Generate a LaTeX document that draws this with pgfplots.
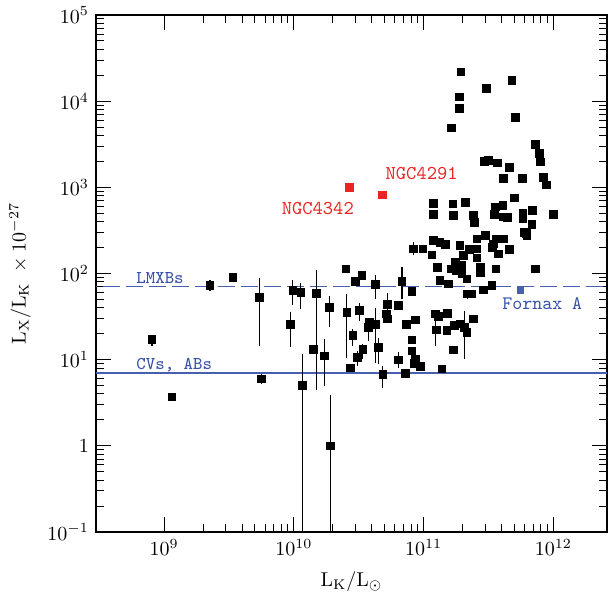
\documentclass[border=0pt]{standalone}
\usepackage{pgfplots}
\pgfplotsset{compat=1.18}
\definecolor{lblue}{RGB}{70,95,175}
\definecolor{tblue}{RGB}{55,80,170}
\definecolor{nred}{RGB}{235,35,35}
\begin{document}
\begin{tikzpicture}
\begin{axis}[name=ax, scale only axis, width=255.5pt, height=258.5pt,
 xmode=log, ymode=log, xmin=2.99e8, xmax=2.59e12, ymin=0.1, ymax=1e5,
 xtick={1e9,1e10,1e11,1e12}, xticklabels={$10^{9}$,$10^{10}$,$10^{11}$,$10^{12}$},
 ytick={0.1,1,10,100,1000,10000,100000},
 yticklabels={$10^{-1}$,$1$,$10^{1}$,$10^{2}$,$10^{3}$,$10^{4}$,$10^{5}$},
 tick align=inside, major tick length=7.5pt, minor tick length=4pt,
 axis line style={line width=0.9pt},
 every tick/.style={black, line width=0.5pt},
 xlabel={$\mathrm{L_K/L_\odot}$}, ylabel={$\mathrm{L_X/L_K}\ \times 10^{-27}$},
 xlabel style={at={(axis description cs:0.5,-0.106)}, anchor=base},
 ylabel style={at={(axis description cs:-0.149,0.5)}, anchor=center},
 clip=true, unbounded coords=jump,
]
% reference lines
\addplot[lblue, line width=0.6pt, dash pattern=on 8.5pt off 3pt, forget plot] coordinates {(1e8,70) (1e13,70)};
\addplot[lblue, line width=0.6pt, forget plot] coordinates {(1e8,7) (1e13,7)};
% error bars
\addplot[black, line width=0.6pt, forget plot] coordinates {
(8.08e8,14.6) (8.08e8,19.0) (8.08e8,nan)
(2.26e9,62) (2.26e9,85) (2.26e9,nan)
(5.40e9,14.6) (5.40e9,89.8) (5.40e9,nan)
(5.60e9,5.2) (5.60e9,6.9) (5.60e9,nan)
(9.37e9,14.2) (9.37e9,36.1) (9.37e9,nan)
(9.82e9,43.6) (9.82e9,85.1) (9.82e9,nan)
(1.13e10,39.2) (1.13e10,78.5) (1.13e10,nan)
(1.17e10,0.01) (1.17e10,11.7) (1.17e10,nan)
(1.50e10,4.48) (1.50e10,111) (1.50e10,nan)
(1.72e10,4.99) (1.72e10,17.5) (1.72e10,nan)
(1.88e10,24.2) (1.88e10,55.4) (1.88e10,nan)
(1.91e10,0.01) (1.91e10,3.92) (1.91e10,nan)
(4.24e10,51.2) (4.24e10,97.3) (4.24e10,nan)
(2.56e10,10.5) (2.56e10,58.5) (2.56e10,nan)
(3.21e10,28.4) (3.21e10,46.0) (3.21e10,nan)
(2.85e10,14.6) (2.85e10,22.9) (2.85e10,nan)
(3.40e10,10.3) (3.40e10,15.3) (3.40e10,nan)
(3.09e10,8.5) (3.09e10,12.7) (3.09e10,nan)
(5.27e10,30.8) (5.27e10,60.1) (5.27e10,nan)
(4.24e10,9.2) (4.24e10,40.3) (4.24e10,nan)
(3.76e10,16.6) (3.76e10,30) (3.76e10,nan)
(4.49e10,9.0) (4.49e10,18.0) (4.49e10,nan)
(4.85e10,4.72) (4.85e10,8.5) (4.85e10,nan)
(6.81e10,51.2) (6.81e10,118) (6.81e10,nan)
(6.40e10,8.1) (6.40e10,12.2) (6.40e10,nan)
(8.36e10,162) (8.36e10,231) (8.36e10,nan)
(1.23e11,14.6) (1.23e11,37.2) (1.23e11,nan)
(2.06e11,10.3) (2.06e11,37.2) (2.06e11,nan)
(2.18e11,50) (2.18e11,65) (2.18e11,nan)
};
% galaxies
\addplot[only marks, mark=square*, mark size=1.9pt, black] coordinates {
(8.08e8,17.1) (1.15e9,3.7) (2.26e9,72.5) (3.40e9,89.8) (5.40e9,52.6) (5.60e9,6.0)
(9.37e9,25.5) (9.82e9,63.4) (1.13e10,60.1) (1.17e10,4.99) (1.42e10,13.1) (1.50e10,58.5)
(1.72e10,11.1) (1.88e10,40.3) (1.91e10,1.0)
(2.52e10,113) (2.97e10,81.3) (3.34e10,94.8) (4.24e10,74.5) (2.56e10,35.5) (3.21e10,37.2)
(2.85e10,19.0) (3.40e10,13.1) (3.09e10,10.6) (2.72e10,8.0) (5.27e10,43.6) (5.15e10,34.0)
(5.27e10,29.7) (4.24e10,25.5) (3.83e10,27.2) (3.76e10,23.8) (4.49e10,13.9) (4.85e10,6.8)
(6.40e10,42.5) (6.81e10,81.3) (8.13e10,62.2) (7.35e10,25.5) (8.61e10,29.0) (6.40e10,9.9)
(7.21e10,6.9) (8.13e10,16.9) (8.13e10,12.7) (8.61e10,10.1) (8.48e10,9.1) (9.42e10,8.3)
(8.36e10,194) (9.89e10,194) (1.16e11,165) (1.19e11,242) (1.47e11,217) (1.28e11,118)
(1.34e11,83) (1.56e11,75.9) (1.23e11,34.0) (1.30e11,31.6) (1.53e11,34.5) (1.25e11,22.1)
(1.51e11,21.7) (1.72e11,24.8) (1.91e11,26.0) (2.16e11,20.7) (2.06e11,23.8) (1.70e11,13.0)
(1.38e11,7.8) (2.18e11,58.1) (2.36e11,58.1) (2.43e11,29.7) (1.63e11,113) (1.78e11,108)
(1.97e11,101) (2.16e11,86.7) (1.75e11,135) (1.91e11,212) (2.03e11,162) (2.26e11,189)
(2.58e11,253) (2.99e11,277) (2.58e11,194) (2.58e11,152) (2.73e11,118) (2.73e11,103)
(2.90e11,64.6) (3.36e11,72.5) (3.46e11,221) (3.61e11,253) (3.78e11,169) (4.13e11,253)
(4.59e11,189) (3.61e11,113) (6.18e11,290) (7.24e11,113) (3.40e11,202) (1.34e11,231)
(1.97e11,124)
(1.94e11,21900) (4.80e11,17500) (3.04e11,14100) (1.89e11,11200) (1.89e11,8220)
(5.08e11,6460) (1.63e11,4900) (7.24e11,3140) (7.83e11,2470) (7.93e11,1970)
(2.93e11,2000) (3.16e11,2060) (3.72e11,1920) (4.59e11,1690) (4.13e11,1260)
(5.79e11,1260) (8.40e11,1300) (8.81e11,1070) (5.02e11,752) (1.19e11,656)
(1.68e11,645) (2.10e11,664) (1.19e11,482) (1.70e11,472) (2.43e11,472) (2.46e11,395)
(3.56e11,590) (4.08e11,618) (3.50e11,485) (4.08e11,452) (4.44e11,445) (5.84e11,502)
(6.87e11,541) (1.00e12,485) (5.84e11,433) (6.84e11,373) (5.97e11,302) (6.27e11,277)
};
\addplot[only marks, mark=square*, mark size=1.9pt, nred] coordinates {(2.67e10,1000) (4.80e10,813)};
\addplot[only marks, mark=square*, mark size=1.6pt, lblue] coordinates {(5.56e11,64.6)};
% labels
\node[anchor=base west, inner sep=0pt, text=tblue, font={\fontsize{9}{10}\selectfont\ttfamily}] at (axis cs:6.08e8,75.9) {LMXBs};
\node[anchor=base west, inner sep=0pt, text=tblue, font={\fontsize{9}{10}\selectfont\ttfamily}] at (axis cs:6.08e8,7.59) {CVs, ABs};
\node[anchor=base west, inner sep=0pt, text=nred, font={\fontsize{9.8}{11}\selectfont\ttfamily}] at (axis cs:8.02e9,485) {NGC4342};
\node[anchor=base west, inner sep=0pt, text=nred, font={\fontsize{9.8}{11}\selectfont\ttfamily}] at (axis cs:5.06e10,1230) {NGC4291};
\node[anchor=base west, inner sep=0pt, text=tblue, font={\fontsize{9.5}{11}\selectfont\ttfamily}] at (axis cs:4.02e11,38.1) {Fornax A};
\end{axis}
\pgfresetboundingbox
\path[use as bounding box] ([xshift=-48pt,yshift=-38pt]ax.south west) rectangle ([xshift=0.5pt,yshift=7.5pt]ax.north east);
\end{tikzpicture}
\end{document}
